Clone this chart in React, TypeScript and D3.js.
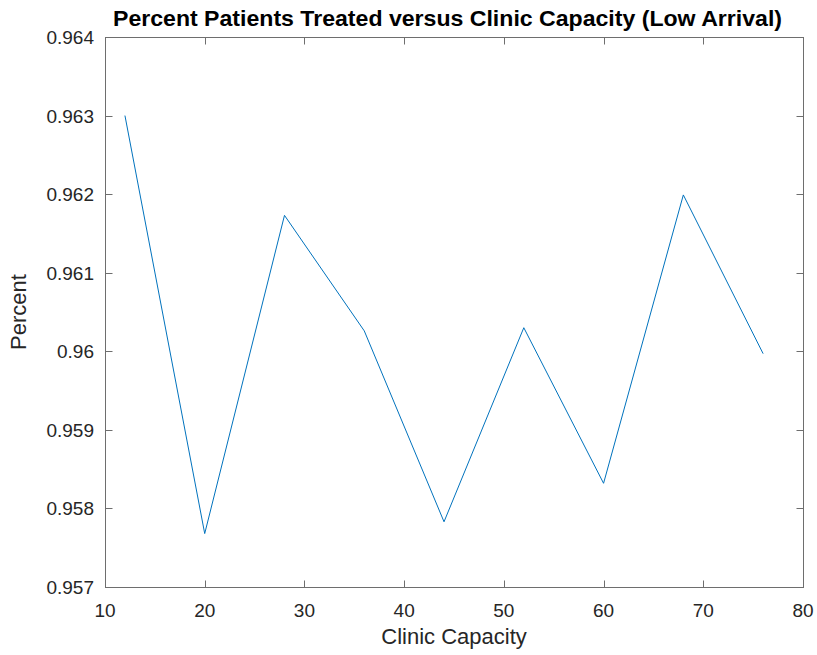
import React from "react";
import * as d3 from "d3";

const capacities = [12, 20, 28, 36, 44, 52, 60, 68, 76];
const percents = [0.963, 0.95768, 0.96173, 0.96026, 0.95783, 0.9603, 0.95832, 0.96199, 0.95997];
const xTicks = [10, 20, 30, 40, 50, 60, 70, 80];
const yTicks = [0.957, 0.958, 0.959, 0.96, 0.961, 0.962, 0.963, 0.964];
const yTickLabels = ["0.957", "0.958", "0.959", "0.96", "0.961", "0.962", "0.963", "0.964"];

const W = 817;
const H = 655;
const left = 105;
const right = 803;
const top = 37;
const bottom = 587;

export default function App() {
  const x = d3.scaleLinear().domain([10, 80]).range([left, right]);
  const y = d3.scaleLinear().domain([0.957, 0.964]).range([bottom, top]);
  const line = d3
    .line<number>()
    .x((_, i) => x(capacities[i]))
    .y((d) => y(d));
  const axisColor = "#6e6e6e";
  const textColor = "#262626";
  const tickLen = 7;
  return (
    <svg
      width={W}
      height={H}
      style={{ position: "absolute", left: 0, top: 0, background: "#fff" }}
      fontFamily="'Liberation Sans', Arial, Helvetica, sans-serif"
    >
      <rect x={0} y={0} width={W} height={H} fill="#fff" />
      <rect
        x={left + 0.5}
        y={top + 0.5}
        width={right - left}
        height={bottom - top}
        fill="none"
        stroke={axisColor}
        strokeWidth={1}
      />
      {xTicks.map((t) => (
        <g key={"x" + t}>
          <line x1={Math.round(x(t)) + 0.5} x2={Math.round(x(t)) + 0.5} y1={bottom + 0.5} y2={bottom + 0.5 - tickLen} stroke={axisColor} />
          <line x1={Math.round(x(t)) + 0.5} x2={Math.round(x(t)) + 0.5} y1={top + 0.5} y2={top + 0.5 + tickLen} stroke={axisColor} />
          <text x={x(t)} y={617} textAnchor="middle" fontSize={19} fill={textColor}>
            {t}
          </text>
        </g>
      ))}
      {yTicks.map((t, i) => (
        <g key={"y" + t}>
          <line x1={left + 0.5} x2={left + 0.5 + tickLen} y1={Math.round(y(t)) + 0.5} y2={Math.round(y(t)) + 0.5} stroke={axisColor} />
          <line x1={right + 0.5} x2={right + 0.5 - tickLen} y1={Math.round(y(t)) + 0.5} y2={Math.round(y(t)) + 0.5} stroke={axisColor} />
          <text x={94} y={y(t) + 7} textAnchor="end" fontSize={19} fill={textColor}>
            {yTickLabels[i]}
          </text>
        </g>
      ))}
      <path d={line(percents) || ""} fill="none" stroke="#0072BD" strokeWidth={1} />
      <text
        x={447.5}
        y={26}
        textAnchor="middle"
        fontSize={22}
        fontWeight="bold"
        fill="#000"
        textLength={669}
        lengthAdjust="spacingAndGlyphs"
      >
        Percent Patients Treated versus Clinic Capacity (Low Arrival)
      </text>
      <text x={(left + right) / 2} y={644} textAnchor="middle" fontSize={22} fill={textColor}>
        Clinic Capacity
      </text>
      <text
        transform={`translate(26, ${(top + bottom) / 2}) rotate(-90)`}
        textAnchor="middle"
        fontSize={22}
        fill={textColor}
      >
        Percent
      </text>
    </svg>
  );
}
